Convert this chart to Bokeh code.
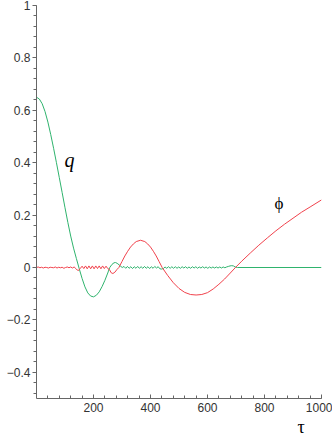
from bokeh.plotting import figure
from bokeh.models import Range1d, FixedTicker, CustomJSTickFormatter, Title
from bokeh.core.properties import value
from bokeh.embed import file_html
from bokeh.resources import INLINE
import numpy as np

# ---- data ----
q_tau = [0, 10, 20, 30, 40, 50, 60, 70, 80, 90, 100, 110, 120, 130, 140, 150,
         160, 170, 180, 190, 200, 210, 220, 230, 240, 250, 257, 265, 272, 277,
         283, 290, 296, 301,
         307, 313, 319, 325, 331, 337, 343, 349, 355, 361, 367, 373, 379, 385,
         391, 397, 403, 409, 415, 421, 427, 433, 439, 445, 451, 457, 463, 469,
         475, 481, 487, 493, 499, 505, 511, 517, 523, 529, 535, 541, 547, 553,
         559, 565, 571, 577, 583, 589, 595, 601, 607, 613, 619, 625, 631, 637,
         643, 649, 655, 661, 667, 673, 679, 685, 691, 697, 705, 1000]
q_val = [0.650, 0.643, 0.625, 0.595, 0.555, 0.507, 0.455, 0.400, 0.343, 0.286,
         0.228, 0.172, 0.120, 0.074, 0.034, -0.005, -0.042, -0.074, -0.097,
         -0.109, -0.112, -0.106, -0.093, -0.073, -0.049, -0.021, 0.000, 0.012,
         0.018, 0.019, 0.016, 0.010, 0.004, 0.000,
         0.004, -0.003, 0.004, -0.003, 0.003, -0.004, 0.003, -0.003, 0.004,
         -0.003, 0.003, -0.003, 0.004, -0.003, 0.003, -0.004, 0.003, -0.003,
         0.004, -0.002, 0.003, -0.005, -0.006, -0.004, 0.002, -0.003, 0.003,
         -0.003, 0.003, -0.003, 0.003, -0.003, 0.002, -0.003, 0.003, -0.002,
         0.003, -0.003, 0.002, -0.003, 0.003, -0.002, 0.003, -0.003, 0.002,
         -0.002, 0.003, -0.002, 0.002, -0.003, 0.002, -0.002, 0.002, -0.002,
         0.002, -0.002, 0.002, -0.002, 0.002, -0.001, 0.002, 0.004, 0.006,
         0.007, 0.006, 0.002, 0.000, 0.000]

phi_tau = [0, 6, 12, 18, 24, 30, 36, 42, 48, 54, 60, 66, 72, 78, 84, 90, 96,
           102, 108, 114, 120, 126, 132, 138, 143, 148, 154, 160, 166, 172,
           178, 184, 190, 196, 202, 208, 214, 220, 226, 232, 238, 244, 250,
           256, 262, 268, 275, 282, 289, 300, 310, 320, 330, 340, 350, 365,
           380, 390, 400, 410, 420, 430, 441, 460, 480, 500, 520, 540, 560,
           580, 600, 620, 640, 660, 680, 698, 720, 750, 780, 810, 840, 870,
           900, 930, 960, 1000]
phi_val = [0.000, 0.002, -0.001, 0.001, -0.002, 0.001, 0.000, -0.002, 0.001,
           0.000, -0.001, 0.002, -0.002, 0.001, -0.001, 0.001, -0.003, 0.000,
           0.002, -0.001, 0.002, -0.002, 0.002, -0.004, -0.010, -0.011,
           -0.003, 0.005, -0.004, 0.006, -0.005, 0.006, -0.005, 0.006, -0.005,
           0.006, -0.004, 0.006, -0.005, 0.006, -0.004, 0.005, -0.004, -0.008,
           -0.020, -0.023, -0.018, -0.008, 0.000, 0.023, 0.044, 0.062, 0.078,
           0.090, 0.099, 0.104, 0.099, 0.090, 0.078, 0.062, 0.044, 0.023,
           0.000, -0.030, -0.058, -0.080, -0.095, -0.103, -0.105, -0.103,
           -0.096, -0.082, -0.064, -0.044, -0.021, 0.000, 0.024, 0.055, 0.085,
           0.113, 0.140, 0.165, 0.188, 0.211, 0.231, 0.258]

y_ticks = [-0.4, -0.2, 0, 0.2, 0.4, 0.6, 0.8, 1]
x_ticks = [200, 400, 600, 800, 1000]

label_text = ["q", "ϕ"]
label_x = [116, 851]
label_y = [0.41, 0.245]
x_title = "τ"

GREEN = "#2fb36d"
RED = "#f0424c"
AXIS = "#666666"

p = figure(width=332, height=438, output_backend="svg", toolbar_location=None,
           x_range=Range1d(0, 1000), y_range=Range1d(-0.5, 1.0),
           min_border_left=36, min_border_right=11, min_border_top=5,
           min_border_bottom=40)
p.outline_line_color = None
p.xgrid.visible = False
p.ygrid.visible = False
p.background_fill_color = "white"
p.border_fill_color = "white"

p.line(q_tau, q_val, line_color=GREEN, line_width=1)
p.line(phi_tau, phi_val, line_color=RED, line_width=1)

p.text(x=[label_x[0]], y=[label_y[0]], text=[label_text[0]],
       text_font=value("Liberation Serif"), text_font_style="italic",
       text_font_size="20px", text_align="center", text_baseline="middle",
       text_color="black")
p.text(x=[label_x[1]], y=[label_y[1]], text=[label_text[1]],
       text_font=value("Liberation Serif"), text_font_size="17px",
       text_align="center", text_baseline="middle", text_color="black")

p.add_layout(Title(text=x_title, align="left", offset=261, standoff=0,
                   text_font="Liberation Serif", text_font_size="18px",
                   text_font_style="normal", text_color="black"), "below")

yax = p.yaxis[0]
yax.ticker = FixedTicker(ticks=y_ticks, minor_ticks=list(np.round(np.arange(-0.48, 1.0001, 0.04), 3)))
yax.formatter = CustomJSTickFormatter(code="""
if (Math.abs(tick) < 1e-9) return '0';
if (Math.abs(tick - 1) < 1e-9) return '1';
return tick < 0 ? '\\u2212' + Math.abs(tick).toFixed(1) : tick.toFixed(1);
""")
xax = p.xaxis[0]
xax.ticker = FixedTicker(ticks=x_ticks, minor_ticks=list(range(40, 1001, 40)))

for ax in (xax, yax):
    ax.axis_line_color = AXIS
    ax.major_tick_line_color = AXIS
    ax.minor_tick_line_color = AXIS
    ax.major_label_text_font = "Liberation Sans"
    ax.major_label_text_font_size = "12px"
    ax.major_label_text_color = "#333333"

yax.major_tick_out = 4
yax.major_tick_in = 0
yax.minor_tick_out = 3
yax.minor_tick_in = 0
yax.major_label_standoff = 2

xax.major_tick_out = 0
xax.major_tick_in = 4
xax.minor_tick_out = 0
xax.minor_tick_in = 3
xax.major_label_standoff = 4

open("out.html", "w").write(file_html(p, INLINE))
